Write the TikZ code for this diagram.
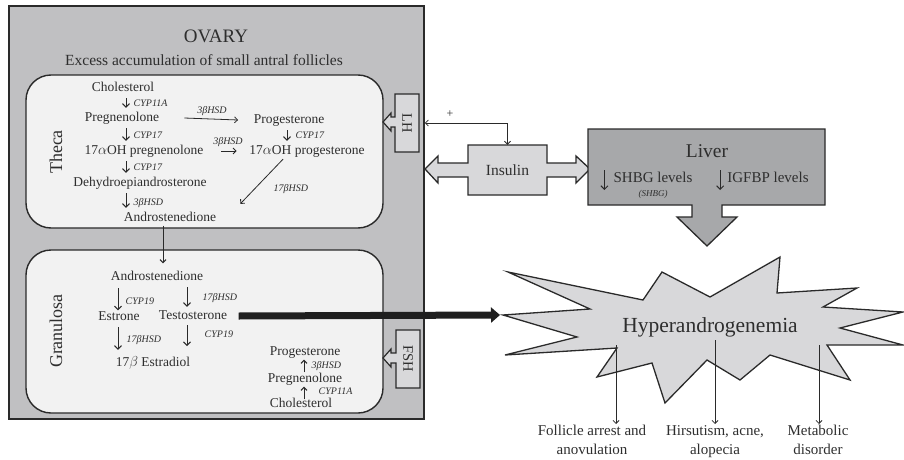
\documentclass[tikz,border=0pt]{standalone}
\usepackage{fontspec}
\setmainfont{Liberation Serif}
\usetikzlibrary{arrows.meta,calc}
\definecolor{ink}{HTML}{2E2E2E}
\definecolor{edge}{HTML}{2A2A2A}
\definecolor{ovaryfill}{HTML}{C0C0C2}
\definecolor{cellfill}{HTML}{F2F2F2}
\definecolor{boxfill}{HTML}{D8D8DA}
\definecolor{liverfill}{HTML}{A7A8AA}
\begin{document}
\begin{tikzpicture}[x=1pt,y=-1pt,
  txt/.style={text=ink,font=\fontsize{13.5}{15}\selectfont,inner sep=0.5pt,text height=9pt,text depth=3pt},
  enz/.style={text=ink,font=\fontsize{10}{12}\selectfont\itshape,inner sep=0.5pt,anchor=west},
  big/.style={text=ink,inner sep=1pt},
  pa/.style={draw=edge,line width=1pt,-{Straight Barb[length=3.5pt,width=7pt]},shorten <=3.5pt,shorten >=3.5pt},
  ga/.style={draw=edge,line width=1pt,-{Straight Barb[length=3.5pt,width=7pt]}},
  thin/.style={draw=edge,line width=0.8pt,-{Straight Barb[length=3pt,width=6pt]}},
  shapeline/.style={draw=edge,line width=1.4pt,line join=miter}
]
\useasboundingbox (0,0) rectangle (904,460);

% ---------- OVARY ----------
\node[draw=edge,line width=1.5pt,fill=ovaryfill,minimum width=415pt,minimum height=413pt,inner sep=0pt] (ovary) at (216.5,212.5) {};
\node[big,font=\fontsize{19}{21}\selectfont] (ovt) at (216,36) {OVARY};
\node[big,font=\fontsize{15.5}{17}\selectfont] (exc) at (204,60) {Excess accumulation of small antral follicles};

\draw[shapeline,fill=cellfill,rounded corners=25pt] (26,75) rectangle (383,228);
\draw[shapeline,fill=cellfill,rounded corners=25pt] (26,250) rectangle (383,413);

\node[big,font=\fontsize{18}{20}\selectfont,rotate=90] (theca) at (56,152) {Theca};
\node[big,font=\fontsize{18}{20}\selectfont,rotate=90] (gran) at (56,331) {Granulosa};

% LH and FSH block arrows
\draw[shapeline,line width=1.2pt,fill=boxfill] (395,94) -- (419,94) -- (419,152) -- (395,152) -- (395,127) -- (391,127) -- (391,131) -- (383,122) -- (391,113) -- (391,117) -- (395,117) -- cycle;
\node[big,font=\fontsize{14.5}{16}\selectfont,rotate=-90] (lh) at (407,123) {LH};
\draw[shapeline,line width=1.2pt,fill=boxfill] (396,330) -- (420,330) -- (420,388) -- (396,388) -- (396,363) -- (391,363) -- (391,367) -- (383,358) -- (391,349) -- (391,353) -- (396,353) -- cycle;
\node[big,font=\fontsize{14.5}{16}\selectfont,rotate=-90] (fsh) at (408,359) {FSH};

% ---------- Theca pathway ----------
\coordinate (tx) at (126,0);
\coordinate (px) at (287,0);
\node[txt] (chol) at (123,88) {Cholesterol};
\node[txt] (preg) at (122,118) {Pregnenolone};
\node[txt] (p17) at (144,151) {17$\alpha$OH pregnenolone};
\node[txt] (dhea) at (140,183) {Dehydroepiandrosterone};
\node[txt] (andro) at (170,218) {Androstenedione};
\node[txt] (prog) at (289,120) {Progesterone};
\node[txt] (g17) at (307,151) {17$\alpha$OH progesterone};

\draw[pa] (chol.south -| tx) -- (preg.north -| tx);
\draw[pa] (preg.south -| tx) -- (p17.north -| tx);
\draw[pa] (p17.south -| tx) -- (dhea.north -| tx);
\draw[pa] (dhea.south -| tx) -- (andro.north -| tx);
\draw[pa] (prog.south -| px) -- (g17.north -| px);
\draw[thin] ($(preg.east)+(24.5,0)$) -- ($(prog.west)+(-15,0)$);
\draw[thin,line width=1pt] ($(p17.east)+(17,0)$) -- ($(g17.west)+(-12,0)$);
\draw[thin] ($(g17.south)+(-24,1.5)$) -- ($(andro.north east)+(23.5,-7.5)$);

\node[enz] (e1) at (133,103) {CYP11A};
\node[enz] (e2) at (133,135) {CYP17};
\node[enz] (e3) at (133,167) {CYP17};
\node[enz] (e4) at (133,203) {3βHSD};
\node[enz,anchor=center] (e5) at (212,111) {3βHSD};
\node[enz,anchor=center] (e6) at (228,142) {3βHSD};
\node[enz] (e7) at (295,135) {CYP17};
\node[enz] (e8) at (273,189) {17βHSD};

% ---------- Granulosa pathway ----------
\coordinate (vx) at (163,0);
\coordinate (gx1) at (118,0);
\coordinate (gx2) at (187,0);
\coordinate (ux) at (304,0);
\node[txt] (gandro) at (157,277) {Androstenedione};
\node[txt] (estr) at (119,317) {Estrone};
\node[txt] (testo) at (193,316) {Testosterone};
\node[txt] (estra) at (153,363) {17$\beta$ Estradiol};
\node[txt] (gprog) at (305,352) {Progesterone};
\node[txt] (gpreg) at (305,379) {Pregnenolone};
\node[txt,text height=8pt,text depth=2pt] (gchol) at (301,404) {Cholesterol};
\coordinate (tend) at (187,346);

\draw[thin,line width=1pt,shorten <=1pt,shorten >=7pt] (andro.south -| vx) -- (gandro.north -| vx);
\draw[ga,shorten <=4.5pt] (gandro.south -| gx1) -- (estr.north -| gx1);
\draw[ga,shorten <=3.5pt,shorten >=2.5pt] (gandro.south -| gx2) -- (testo.north -| gx2);
\draw[ga,shorten <=3.5pt,shorten >=6.5pt] (estr.south -| gx1) -- (estra.north -| gx1);
\draw[ga,shorten <=2.5pt] (testo.south -| gx2) -- (tend);
\draw[thin,line width=1pt,shorten >=1pt] (gpreg.north -| ux) -- (gprog.south -| ux);
\draw[thin,line width=1pt,shorten <=-1pt,shorten >=1pt] (gchol.north -| ux) -- (gpreg.south -| ux);

\node[enz] (f1) at (125,301) {CYP19};
\node[enz] (f2) at (202,298) {17βHSD};
\node[enz] (f3) at (126,340) {17βHSD};
\node[enz] (f4) at (204,334) {CYP19};
\node[enz] (f5) at (311,366) {3βHSD};
\node[enz] (f6) at (318,391.5) {CYP11A};

% ---------- Insulin ----------
\draw[shapeline,line width=1.3pt,fill=boxfill] (425,169) -- (438,156) -- (438,163) -- (468,163) -- (468,145) -- (547,145) -- (547,163) -- (576,163) -- (576,156) -- (590,169) -- (576,183) -- (576,177) -- (547,177) -- (547,195) -- (468,195) -- (468,177) -- (438,177) -- (438,183) -- cycle;
\node[big,font=\fontsize{15.5}{17}\selectfont,minimum width=79pt,minimum height=50pt,inner sep=0pt] (insulin) at (507.5,170) {Insulin};
\draw[draw=edge,line width=0.8pt,{Straight Barb[length=3pt,width=6pt]}-{Straight Barb[length=3pt,width=6pt]}] (ovary.east |- lh) -| (insulin.north);
\node[big,font=\fontsize{12}{14}\selectfont] (plus) at (450,114) {+};

% ---------- Liver ----------
\draw[shapeline,line width=1.3pt,fill=liverfill] (588,129) -- (825,129) -- (825,205) -- (722,205) -- (722,217) -- (737,217) -- (707,246) -- (677,217) -- (692,217) -- (692,205) -- (588,205) -- cycle;
\node[big,font=\fontsize{19.5}{21}\selectfont] (liver) at (707,151) {Liver};
\node[big,font=\fontsize{15}{17}\selectfont] (shbg) at (653,177) {SHBG levels};
\node[big,font=\fontsize{9}{10}\selectfont\itshape] (shbgs) at (653,194) {(SHBG)};
\node[big,font=\fontsize{15}{17}\selectfont] (igf) at (768,177) {IGFBP levels};
\draw[ga] ($(shbg.west)+(-8,-7)$) -- ($(shbg.west)+(-8,13)$);
\draw[ga] ($(igf.west)+(-6,-7)$) -- ($(igf.west)+(-6,13)$);

% ---------- Hyperandrogenemia ----------
\draw[shapeline,line width=1.3pt,fill=boxfill] (503,315) -- (590,309) -- (508,272) -- (643,300) -- (662,272) -- (710,297) -- (780,257) -- (777,293) -- (857,288) -- (823,307) -- (903,312) -- (840,328) -- (903,345) -- (827,345) -- (850,380) -- (770,355) -- (740,380) -- (707,360) -- (665,403) -- (652,363) -- (597,377) -- (617,348) -- (505,355) -- (577,337) -- cycle;
\node[big,font=\fontsize{21.5}{24}\selectfont] (hyper) at (710,327) {Hyperandrogenemia};
\coordinate (startip) at (500,315);
\draw[draw=black!88,line width=7pt,-{Triangle[length=9pt,width=15pt]}] ($(testo.east)+(11,0)$) -- (startip);

\node[big,font=\fontsize{15}{19}\selectfont,align=center,anchor=north] (out1) at (592,424) {Follicle arrest and\\anovulation};
\node[big,font=\fontsize{15}{19}\selectfont,align=center,anchor=north] (out2) at (715,424) {Hirsutism, acne,\\alopecia};
\node[big,font=\fontsize{15}{19}\selectfont,align=center,anchor=north] (out3) at (818,424) {Metabolic\\disorder};
\coordinate (o1) at (616,345);
\coordinate (o2) at (715,340);
\coordinate (o3) at (819,345);
\draw[thin] (o1) -- (out1.north -| o1);
\draw[thin] (o2) -- (out2.north);
\draw[thin] (o3) -- (out3.north -| o3);
\end{tikzpicture}
\end{document}
